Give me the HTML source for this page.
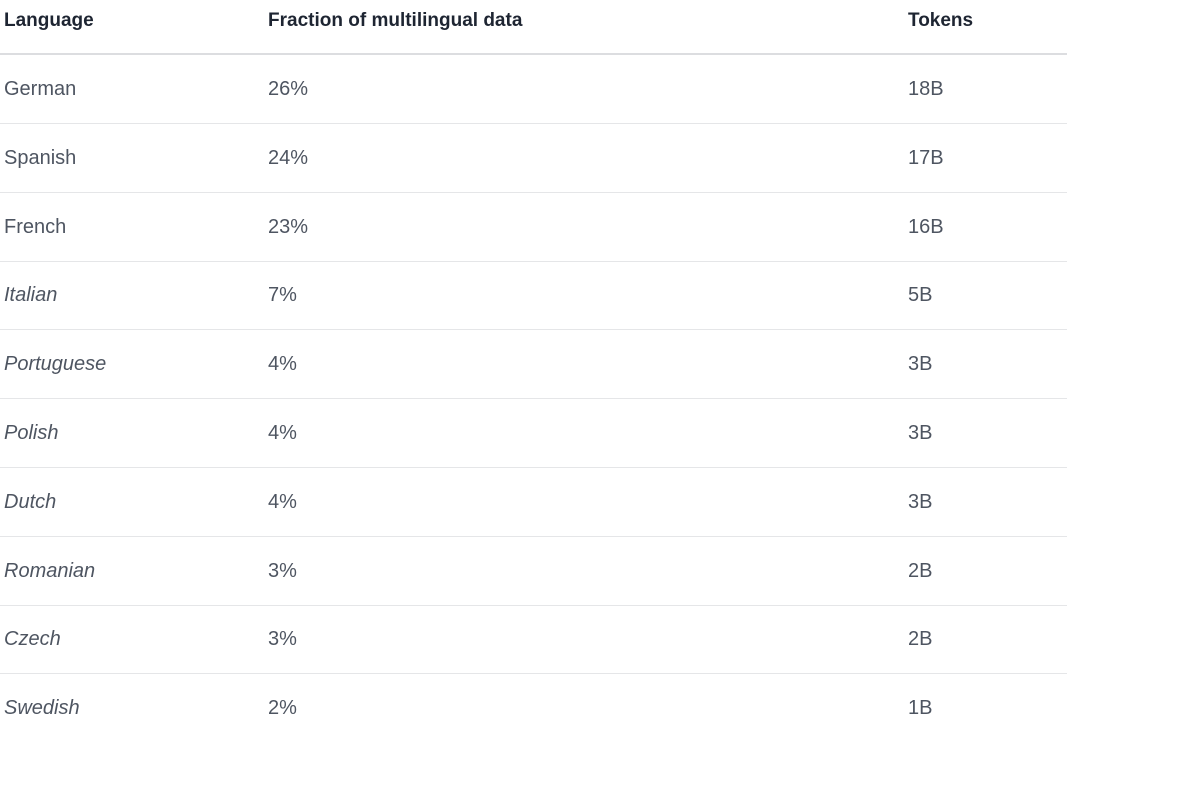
<!DOCTYPE html>
<html><head><meta charset="utf-8"><style>
html,body{margin:0;padding:0;background:#fff;width:1183px;height:791px;overflow:hidden}
body{font-family:"Liberation Sans",sans-serif}
.t{position:absolute;left:0;top:0;width:1067px}
.h,.r{position:absolute;left:0;width:1067px}
.h{top:0;height:53px;border-bottom:2px solid #dcdde0}
.r{height:68px;border-bottom:1px solid #e5e6e8}
.c{position:absolute;white-space:nowrap}
.h .c{top:10px;font-size:19px;font-weight:bold;color:#1e2532}
.r .c{font-size:20px;color:#4e5561;top:23px}
.i{font-style:italic}
</style></head><body>
<div class="t">
<div class="h">
<span class="c" style="left:4px">Language</span>
<span class="c" style="left:268px">Fraction of multilingual data</span>
<span class="c" style="left:908px">Tokens</span>
</div>
<div id="rows"></div>
</div>
<script>
const languages=["German","Spanish","French","Italian","Portuguese","Polish","Dutch","Romanian","Czech","Swedish"];
const fractions=["26%","24%","23%","7%","4%","4%","4%","3%","3%","2%"];
const tokens=["18B","17B","16B","5B","3B","3B","3B","2B","2B","1B"];
const italic=[false,false,false,true,true,true,true,true,true,true];
const rows=document.getElementById('rows');
languages.forEach((l,i)=>{
  const r=document.createElement('div');
  r.className='r';
  r.style.top=(55+i*68.8)+'px';
  if(i===languages.length-1)r.style.borderBottom='none';
  
  
  const a=document.createElement('span');a.className='c'+(italic[i]?' i':'');a.style.left='4px';a.textContent=l;
  
  
  const b=document.createElement('span');b.className='c';b.style.left='268px';b.textContent=fractions[i];
  
  
  const c=document.createElement('span');c.className='c';c.style.left='908px';c.textContent=tokens[i];
  
  
  r.append(a,b,c);rows.appendChild(r);
});
</script>
</body></html>
